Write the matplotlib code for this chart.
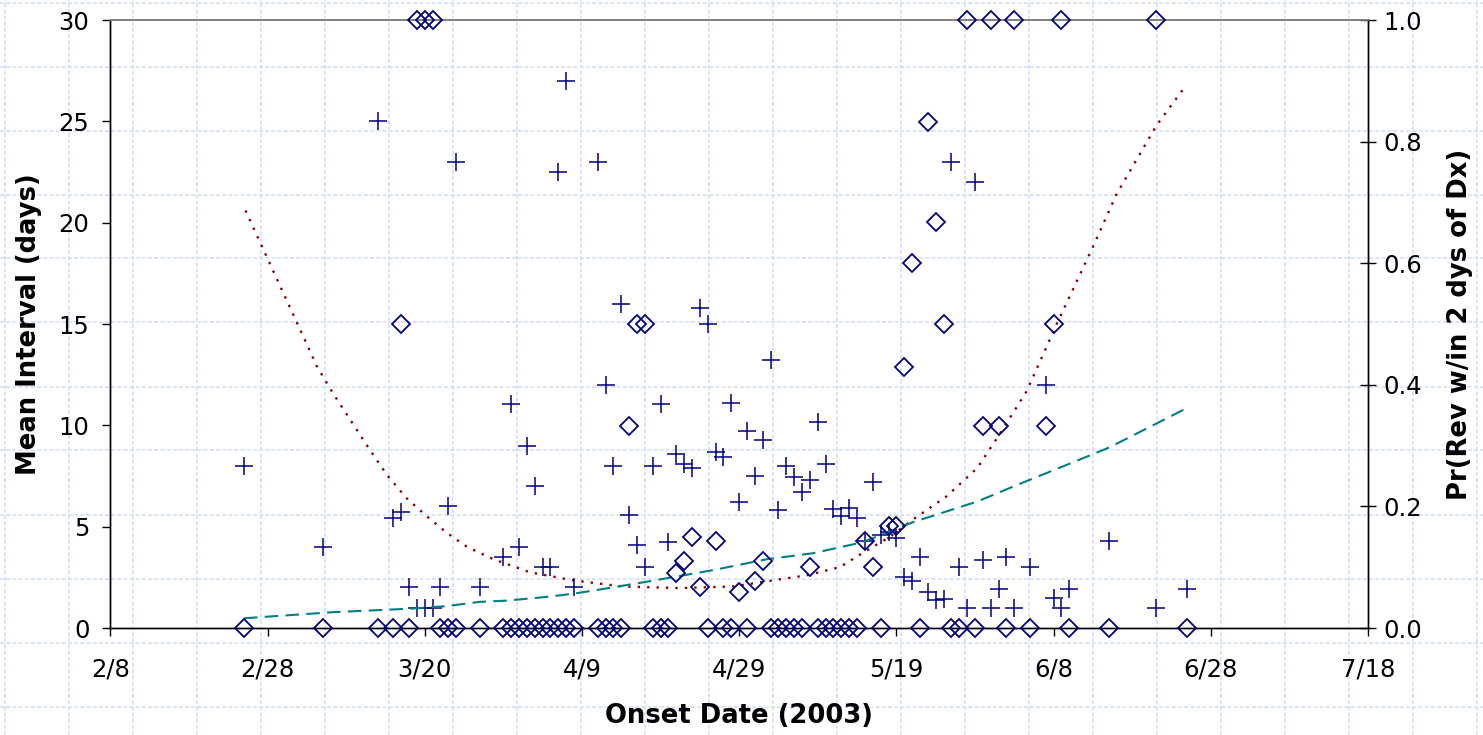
"""Mean interval and revision probability by SARS onset date (2003)."""
import numpy as np
import matplotlib
matplotlib.use("Agg")
import matplotlib.pyplot as plt
from matplotlib.lines import Line2D

# Onset day, counted in days from 2/8/2003
onset_day = [17, 27, 34, 36, 37, 38, 39, 40, 41, 42, 43, 44, 47,
             50, 51, 52, 53, 54, 55, 56, 57, 58, 59,
             62, 63, 64, 65, 66, 67, 68, 69, 70, 71, 72, 73, 74, 75, 76, 77,
             78, 79, 80, 81, 82, 83, 84, 85, 86, 87, 88, 89, 90, 91, 92, 93,
             94, 95, 96, 97, 98, 99, 100, 101, 102, 103, 104, 105, 106, 107,
             108, 109, 110, 111, 112, 113, 114, 115,
             117, 119, 120, 121, 122, 127, 133, 137]

# Mean interval in days (crosses, left axis)
mean_interval = [8, 4, 25, 5.45, 5.7, 2, 1, 1, 1, 2, 6, 23, 2,
                 3.5, 11.05, 4, 9, 7, 3, 3, 22.5, 27, 2,
                 23, 12, 8, 16, 5.6, 4.1, 3, 8, 11.05, 4.25, 8.6, 8.1, 7.9,
                 15.8, 15, 8.7, 8.45, 11.1, 6.2, 9.7, 7.5, 9.3, 13.2, 5.8,
                 8.0, 7.45, 6.7, 7.3, 10.15, 8.1, 5.85, 5.55, 5.9, 5.45, 4.3,
                 7.2, 4.6, 4.75, 4.45, 2.5, 2.3, 3.5, 1.8, 1.4, 1.45, 23, 3,
                 1, 22, 3.35, 1, 1.9, 3.5, 1,
                 3, 12, 1.5, 1, 1.9, 4.3, 1, 1.9]

# Share revised within 2 days of diagnosis (diamonds, right axis)
pr_rev = [0, 0, 0, 0, 0.5, 0, 1, 1, 1, 0, 0, 0, 0,
          0, 0, 0, 0, 0, 0, 0, 0, 0, 0,
          0, 0, 0, 0, 0.333, 0.5, 0.5, 0, 0, 0, 0.091, 0.111, 0.15, 0.067,
          0, 0.143, 0, 0, 0.059, 0, 0.077, 0.111, 0, 0, 0, 0, 0, 0.1,
          0, 0, 0, 0, 0, 0, 0.143, 0.1, 0, 0.167, 0.167, 0.429, 0.6, 0,
          0.833, 0.667, 0.5, 0, 0, 1, 0, 0.333, 1, 0.333, 0, 1,
          0, 0.333, 0.5, 1, 0, 0, 1, 0]

# Smoothed mean interval (dotted, left axis)
smooth_day = [17.2, 26.3, 28.3, 33.0, 35.2, 37.7, 40.3, 42.8, 45.4, 48.7,
              53.4, 58.9, 65.2, 72.4, 79.2, 84.3, 88.6, 92.8, 95.7, 99.2,
              102.1, 106.4, 110.3, 113.2, 116.6, 120.4, 125.0, 128.0, 133.1,
              136.9]
smooth_interval = [20.6, 12.9, 11.6, 8.8, 7.55, 6.4, 5.5, 4.7, 4.0, 3.4,
                   2.75, 2.35, 2.05, 1.97, 2.05, 2.35, 2.6, 3.0, 3.7, 4.5,
                   5.35, 6.5, 7.9, 9.6, 11.7, 15.0, 18.8, 21.4, 24.8, 26.8]

# Fitted revision probability (dashed, right axis)
fit_day = [17, 28.3, 38.5, 42.8, 47, 50.4, 54.6, 57.4, 59.7, 61.9, 68.2,
           76.6, 83.5, 89.4, 95.7, 102.1, 110.3, 115.3, 122, 127.1, 137]
fit_pr = [0.016, 0.026, 0.032, 0.036, 0.043, 0.045, 0.05, 0.054, 0.058,
          0.0625, 0.076, 0.095, 0.113, 0.123, 0.141, 0.174, 0.208, 0.235,
          0.27, 0.297, 0.362]

x_ticks = [0, 20, 40, 60, 80, 100, 120, 140, 160]
x_labels = ["2/8", "2/28", "3/20", "4/9", "4/29", "5/19", "6/8", "6/28", "7/18"]


def main():
    """Entry Point."""
    plt.rcParams["font.family"] = ["DejaVu Sans"]
    W, H = 1483, 735
    fig = plt.figure(figsize=(W / 100, H / 100), dpi=100)

    # Faint blue graph-paper background over the whole picture
    grid_kw = dict(color="#d6dff9", lw=1.2, linestyle=(0, (2.5, 1.2)),
                   transform=fig.transFigure, zorder=0)
    for gx in np.arange(5, W, 64.0):
        fig.add_artist(Line2D([gx / W, gx / W], [0, 1], **grid_kw))
    for gy in np.arange(2.5, H, 64.0):
        fig.add_artist(Line2D([0, 1], [1 - gy / H, 1 - gy / H], **grid_kw))

    ax = fig.add_axes([110.3 / W, 1 - 628 / H, (1368 - 110.3) / W, 608 / H])
    ax.set_facecolor("none")
    ax2 = ax.twinx()
    ax2.set_facecolor("none")

    navy = "#000080"
    ax.plot(onset_day, mean_interval, linestyle="none", marker="+",
            markersize=13, markeredgewidth=1.1, color=navy, clip_on=False,
            zorder=3)
    ax.plot(smooth_day, smooth_interval, color="#8b0000", lw=1.7,
            linestyle=(0, (1, 3)), zorder=2)
    ax2.plot(fit_day, fit_pr, color="#008080", lw=1.5,
             linestyle=(0, (6.5, 3.5)), zorder=2)
    ax2.plot(onset_day, pr_rev, linestyle="none", marker="D",
             markersize=9, markeredgewidth=1.3, markeredgecolor=navy,
             markerfacecolor="none", clip_on=False, zorder=3)

    ax.set_xlim(0, 160)
    ax.set_ylim(0, 30)
    ax2.set_ylim(0, 1)
    ax.set_xticks(x_ticks)
    ax.set_xticklabels(x_labels)
    ax.set_yticks(np.arange(0, 31, 5))
    ax2.set_yticks(np.arange(0, 1.01, 0.2))
    ax2.set_yticklabels([f"{v:.1f}" for v in np.arange(0, 1.01, 0.2)])

    for a in (ax, ax2):
        for side in ("left", "right", "bottom"):
            a.spines[side].set_color("black")
            a.spines[side].set_linewidth(1.0)
        a.spines["top"].set_color("#808080")
        a.spines["top"].set_linewidth(1.2)
    ax.tick_params(axis="x", direction="out", length=6, width=1.0,
                   pad=15, labelsize=17.5)
    ax.tick_params(axis="y", direction="out", length=6, width=1.0,
                   pad=9, labelsize=17.5)
    ax2.tick_params(axis="y", direction="inout", length=12, width=1.0,
                    pad=5, labelsize=17.5)

    ax.set_xlabel("Onset Date (2003)", fontsize=18.6, fontweight="bold",
                  labelpad=16)
    ax.set_ylabel("Mean Interval (days)", fontsize=18.6, fontweight="bold",
                  labelpad=12)
    ax2.set_ylabel("Pr(Rev w/in 2 dys of Dx)", fontsize=18.6,
                   fontweight="bold", labelpad=18)

    fig.savefig("out.png", dpi=100)


if __name__ == "__main__":
    main()
